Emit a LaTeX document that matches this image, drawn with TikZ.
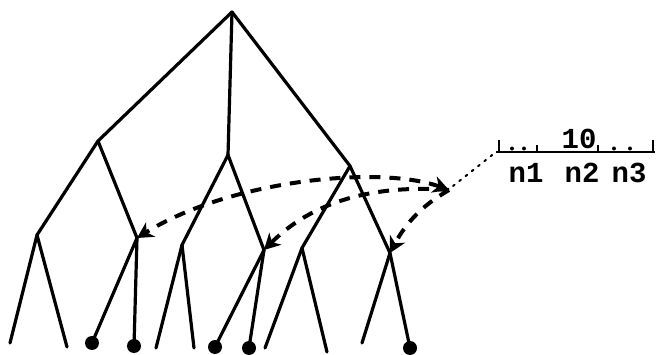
\documentclass[tikz,border=0pt]{standalone}
\usepackage{fontspec}
\newfontfamily\labfont{Liberation Mono}
\usetikzlibrary{arrows.meta}
\begin{document}
\begin{tikzpicture}[x=1pt,y=-1pt,
  edge/.style={line width=3.2pt, line cap=round, line join=round},
  leafdot/.style={circle, fill=black, inner sep=0pt, minimum size=14pt},
  dasharrow/.style={line width=4pt, dash pattern=on 11pt off 9pt, -{Stealth[length=16pt,width=17pt,inset=5pt]}},
  bothdash/.style={line width=4pt, dash pattern=on 11pt off 9pt, {Stealth[length=16pt,width=17pt,inset=5pt]}-{Stealth[length=16pt,width=17pt,inset=5pt]}},
  bitdot/.style={circle, fill=black, inner sep=0pt, minimum size=4pt},
  lab/.style={font=\labfont\bfseries\fontsize{29}{29}\selectfont, inner sep=0pt}]
\useasboundingbox (0,0) rectangle (661,355);
% tree nodes
\coordinate (r) at (232,12);
\coordinate (a) at (98,141);
\coordinate (b) at (228,155);
\coordinate (c) at (350,166);
\coordinate (a1) at (37,235);
\coordinate (a2) at (137,238);
\coordinate (b1) at (182,245);
\coordinate (b2) at (264,250);
\coordinate (c1) at (302,248);
\coordinate (c2) at (390,253);
% leaves
\coordinate (l1) at (10,343);
\coordinate (l2) at (67,347);
\node[leafdot] (d1) at (92,343) {};
\node[leafdot] (d2) at (134,346) {};
\coordinate (l3) at (156,348);
\coordinate (l4) at (194,348);
\node[leafdot] (d3) at (215,347) {};
\node[leafdot] (d4) at (249,348) {};
\coordinate (l5) at (265,348);
\coordinate (l6) at (327,352);
\coordinate (l7) at (362,343);
\node[leafdot] (d5) at (410,348) {};
% edges
\draw[edge] (r) -- (a);
\draw[edge] (r) -- (b);
\draw[edge] (r) -- (c);
\draw[edge] (a) -- (a1);
\draw[edge] (a) -- (a2);
\draw[edge] (b) -- (b1);
\draw[edge] (b) -- (b2);
\draw[edge] (c) -- (c1);
\draw[edge] (c) -- (c2);
\draw[edge] (a1) -- (l1);
\draw[edge] (a1) -- (l2);
\draw[edge] (a2) -- (d1.center);
\draw[edge] (a2) -- (d2.center);
\draw[edge] (b1) -- (l3);
\draw[edge] (b1) -- (l4);
\draw[edge] (b2) -- (d3.center);
\draw[edge] (b2) -- (d4.center);
\draw[edge] (c1) -- (l5);
\draw[edge] (c1) -- (l6);
\draw[edge] (c2) -- (l7);
\draw[edge] (c2) -- (d5.center);
% label
\coordinate (bs) at (496,152);
\coordinate (be) at (655,152);
\draw[line width=2.4pt] (bs) -- (be);
\draw[line width=2.4pt] (499,152) -- (499,140);
\draw[line width=2.4pt] (653,152) -- (653,140);
\draw[line width=2pt] (537,152) -- (537,145);
\draw[line width=2pt] (598,152) -- (598,145);
\node[bitdot] (bd1) at (512,148.5) {};
\node[bitdot] (bd2) at (524,148.5) {};
\node[bitdot] (bd3) at (614,148.5) {};
\node[bitdot] (bd4) at (630,148.5) {};
\node[lab] (ten) at (579,139) {10};
\node[lab] (n1) at (526,173) {n1};
\node[lab] (n2) at (582,173) {n2};
\node[lab] (n3) at (629,173) {n3};
% dashed arrows
\coordinate (s) at (449,190);
\coordinate (s2) at (453,186);
\draw[line width=2pt, dash pattern=on 2pt off 6pt, line cap=round] (s2) -- (bs);
\draw[bothdash] (s) .. controls (380,165) and (230,180) .. (a2);
\draw[dasharrow] (s) .. controls (385,185) and (318,196) .. (b2);
\draw[dasharrow] (s) .. controls (432,200) and (410,215) .. (c2);
\end{tikzpicture}
\end{document}
